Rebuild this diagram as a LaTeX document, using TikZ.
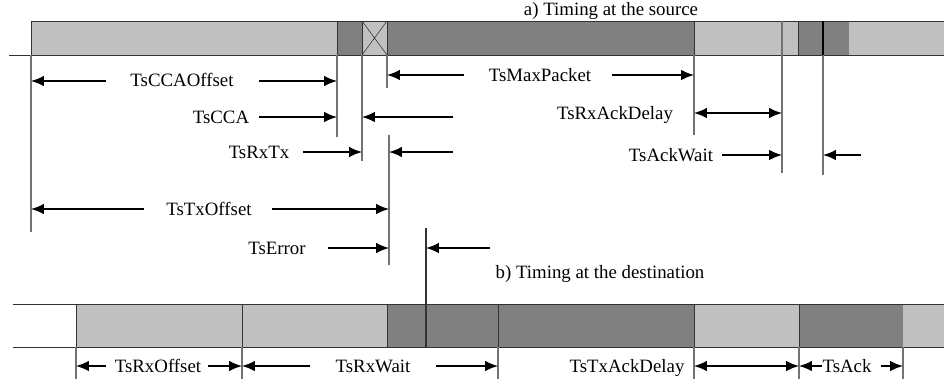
\documentclass[tikz,border=0pt]{standalone}
\usepackage{fontspec}
\setmainfont{Liberation Serif}
\usetikzlibrary{arrows.meta}
\definecolor{lgray}{HTML}{C0C0C0}
\definecolor{dgray}{HTML}{808080}
\begin{document}
\begin{tikzpicture}[x=0.025cm,y=-0.025cm,>={Latex[length=3.2mm,width=2.6mm]},
  light/.style={fill=lgray,draw=black!80,line width=0.6pt},
  dark/.style={fill=dgray,draw=black!80,line width=0.6pt},
  tickline/.style={draw=black!55,line width=0.9pt},
  dim/.style={->,line width=1pt},
  lbl/.style={font=\fontsize{13.4}{16}\selectfont,inner sep=0pt,anchor=base}]
  \useasboundingbox (0,0) rectangle (944,383);
  % a) source
  \node[lbl] (srctitle) at (611,15) {a) Timing at the source};
  \draw[light] (31,21) rectangle (337,55);
  \draw[dark] (337,21) rectangle (362,55);
  \draw[light] (362,21) rectangle (387,55);
  \draw[black!80] (362,21) -- (387,55) (362,55) -- (387,21);
  \draw[dark] (387,21) rectangle (694,55);
  \draw[light] (694,21) rectangle (798,55);
  \draw[dark] (798,21) rectangle (849,55);
  \fill[lgray] (849,21) rectangle (944,55);
  \draw[black!80,line width=0.6pt] (849,21) -- (944,21) (9,55) -- (944,55);
  \draw[tickline] (31,55) -- (31,232);
  \draw[tickline] (337,55) -- (337,137);
  \draw[tickline] (362,55) -- (362,161);
  \draw[tickline] (387,55) -- (387,88);
  \draw[tickline] (389,135) -- (389,265);
  \draw[tickline] (694,55) -- (694,135);
  \draw[tickline] (782,21) -- (782,173);
  \draw[tickline] (823,55) -- (823,175);
  \draw[black,line width=1pt] (823,21) -- (823,55);
  \node[lbl] (ccaoffset) at (182,86) {TsCCAOffset};
  \draw[dim] (106,81) -- (31,81);
  \draw[dim] (259,81) -- (337,81);
  \node[lbl] (maxpacket) at (540,81) {TsMaxPacket};
  \draw[dim] (464,75) -- (387,75);
  \draw[dim] (612,75) -- (694,75);
  \node[lbl] (rxackdelay) at (615,119) {TsRxAckDelay};
  \draw[dim,<->] (694,113) -- (782,113);
  \node[lbl] (cca) at (221,123) {TsCCA};
  \draw[dim] (259,117) -- (337,117);
  \draw[dim] (453,117) -- (362,117);
  \node[lbl] (rxtx) at (259,158) {TsRxTx};
  \draw[dim] (303,152) -- (362,152);
  \draw[dim] (453,152) -- (389,152);
  \node[lbl] (ackwait) at (671,161) {TsAckWait};
  \draw[dim] (722,155) -- (782,155);
  \draw[dim] (861,155) -- (823,155);
  \node[lbl] (txoffset) at (209,215) {TsTxOffset};
  \draw[dim] (144,209) -- (31,209);
  \draw[dim] (272,209) -- (389,209);
  \node[lbl] (error) at (277,254) {TsError};
  \draw[dim] (328,248) -- (389,248);
  \draw[dim] (490,248) -- (426,248);
  % b) destination
  \node[lbl] (dsttitle) at (600,278) {b) Timing at the destination};
  \draw[light] (76,304) rectangle (242,347);
  \draw[light] (242,304) rectangle (387,347);
  \draw[dark] (387,304) rectangle (498,347);
  \draw[dark] (498,304) rectangle (694,347);
  \draw[light] (694,304) rectangle (799,347);
  \draw[dark] (799,304) rectangle (903,347);
  \fill[lgray] (903,304) rectangle (944,347);
  \draw[black!80,line width=0.6pt] (13,304) -- (944,304) (13,347) -- (944,347);
  \draw[black!80,line width=0.9pt] (426,228) -- (426,347);
  \foreach \xx in {76,242,498,694,799,903}
    \draw[tickline] (\xx,347) -- (\xx,379);
  \node[lbl] (rxoffset) at (158,372) {TsRxOffset};
  \draw[dim] (106,366) -- (76,366);
  \draw[dim] (208,366) -- (242,366);
  \node[lbl] (rxwait) at (373,372) {TsRxWait};
  \draw[dim] (310,366) -- (242,366);
  \draw[dim] (436,366) -- (498,366);
  \node[lbl] (txackdelay) at (627,372) {TsTxAckDelay};
  \draw[dim,<->] (694,366) -- (799,366);
  \node[lbl] (ack) at (847,372) {TsAck};
  \draw[dim] (822,366) -- (799,366);
  \draw[dim] (881,366) -- (903,366);
\end{tikzpicture}
\end{document}
